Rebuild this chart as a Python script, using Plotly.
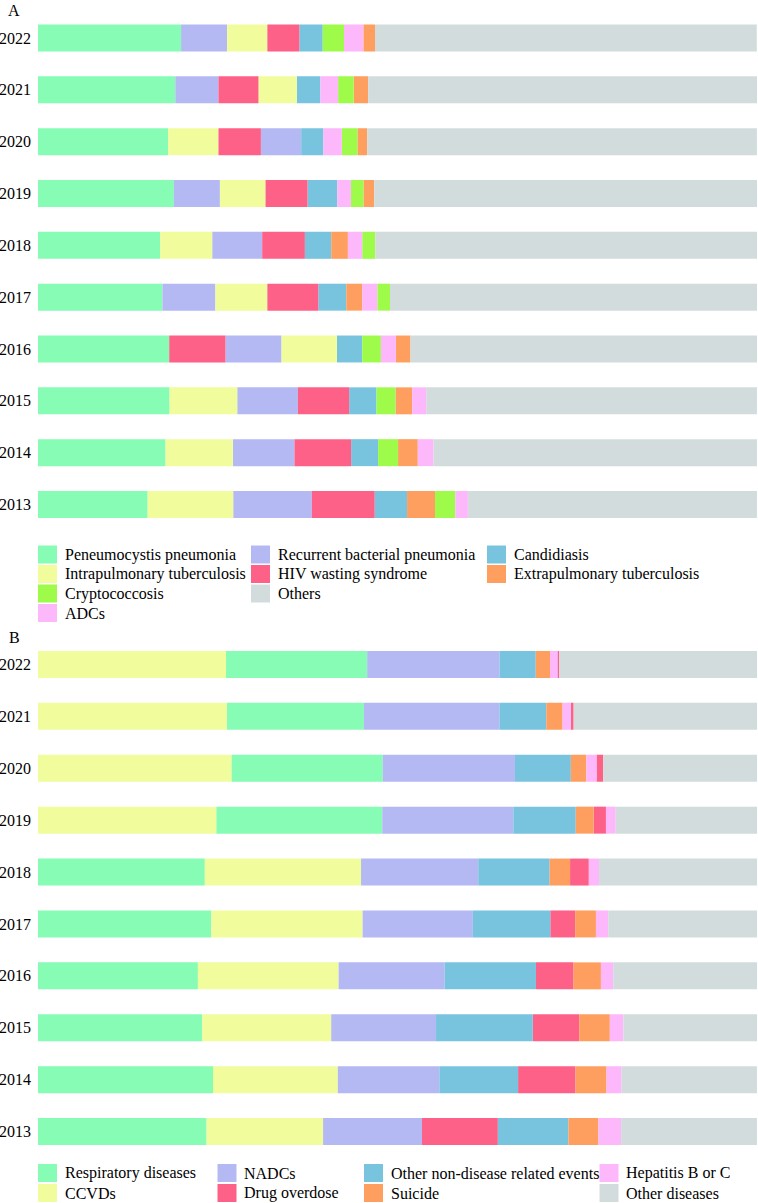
import plotly.graph_objects as go

# ---------------- data ----------------
years = ["2013", "2014", "2015", "2016", "2017", "2018", "2019", "2020", "2021", "2022"]

# Panel A (percent of deaths), years 2013 -> 2022
a_categories = [
    "Peneumocystis pneumonia", "Recurrent bacterial pneumonia", "Candidiasis",
    "Intrapulmonary tuberculosis", "HIV wasting syndrome", "Extrapulmonary tuberculosis",
    "Cryptococcosis", "Others", "ADCs",
]
a_pcp = [15.25, 17.74, 18.30, 18.25, 17.30, 17.00, 18.90, 18.10, 19.10, 19.90]
a_recurrent = [10.94, 8.56, 8.44, 7.79, 7.37, 6.95, 6.40, 5.60, 6.00, 6.40]
a_intra_tb = [11.90, 9.37, 9.41, 7.70, 7.23, 7.23, 6.35, 7.00, 5.33, 5.60]
a_hiv_wasting = [8.74, 7.88, 7.13, 7.83, 7.09, 5.94, 5.84, 5.90, 5.56, 4.45]
a_candidiasis = [4.50, 3.75, 3.80, 3.52, 3.89, 3.66, 4.13, 3.10, 3.29, 3.25]
a_crypto = [2.82, 2.78, 2.64, 2.60, 1.77, 1.81, 1.75, 2.17, 2.17, 2.96]
a_adcs = [1.75, 2.17, 1.95, 2.09, 2.09, 1.99, 1.90, 2.56, 2.46, 2.69]
a_extra_tb = [3.89, 2.74, 2.32, 2.03, 2.22, 2.32, 1.49, 1.35, 2.00, 1.62]
a_others = [40.20, 45.00, 46.00, 48.20, 51.10, 53.10, 53.25, 54.20, 54.10, 53.10]

# Panel B (percent of deaths), years 2013 -> 2022
b_categories = [
    "Respiratory diseases", "CCVDs", "NADCs", "Drug overdose",
    "Other non-disease related events", "Suicide", "Hepatitis B or C", "Other diseases",
]
b_respiratory = [23.45, 24.34, 22.85, 22.24, 24.10, 23.20, 23.09, 21.05, 19.07, 19.63]
b_ccvds = [16.20, 17.36, 17.93, 19.57, 21.05, 21.73, 24.79, 26.90, 26.26, 26.15]
b_nadcs = [13.76, 14.12, 14.58, 14.75, 15.33, 16.30, 18.23, 18.39, 18.84, 18.40]
b_non_disease = [9.81, 10.95, 13.46, 12.70, 10.77, 9.93, 8.68, 7.77, 6.52, 5.05]
b_drug_overdose = [10.55, 7.99, 6.46, 5.23, 3.46, 2.61, 1.70, 0.92, 0.40, 0.17]
b_suicide = [4.17, 4.31, 4.25, 3.80, 2.89, 2.84, 2.50, 2.15, 2.27, 1.99]
b_hepatitis = [3.16, 2.10, 1.88, 1.71, 1.71, 1.42, 1.36, 1.42, 1.14, 1.08]
b_other_diseases = [18.89, 18.82, 18.59, 20.00, 20.69, 22.00, 19.67, 21.40, 25.50, 27.55]

# ---------------- styling ----------------
GREEN = "#86FCB4"
LAVENDER = "#B4B9F4"
YELLOW = "#F1FD9C"
RED = "#FE6187"
BLUE = "#78C4DF"
LIME = "#9EFB4A"
PINK = "#FDB7FB"
ORANGE = "#FE9E5F"
GREY = "#D2DCDC"

a_values = {
    "Peneumocystis pneumonia": a_pcp,
    "Recurrent bacterial pneumonia": a_recurrent,
    "Candidiasis": a_candidiasis,
    "Intrapulmonary tuberculosis": a_intra_tb,
    "HIV wasting syndrome": a_hiv_wasting,
    "Extrapulmonary tuberculosis": a_extra_tb,
    "Cryptococcosis": a_crypto,
    "Others": a_others,
    "ADCs": a_adcs,
}
a_colors = {
    "Peneumocystis pneumonia": GREEN,
    "Recurrent bacterial pneumonia": LAVENDER,
    "Candidiasis": BLUE,
    "Intrapulmonary tuberculosis": YELLOW,
    "HIV wasting syndrome": RED,
    "Extrapulmonary tuberculosis": ORANGE,
    "Cryptococcosis": LIME,
    "Others": GREY,
    "ADCs": PINK,
}
b_values = {
    "Respiratory diseases": b_respiratory,
    "CCVDs": b_ccvds,
    "NADCs": b_nadcs,
    "Drug overdose": b_drug_overdose,
    "Other non-disease related events": b_non_disease,
    "Suicide": b_suicide,
    "Hepatitis B or C": b_hepatitis,
    "Other diseases": b_other_diseases,
}
b_colors = {
    "Respiratory diseases": GREEN,
    "CCVDs": YELLOW,
    "NADCs": LAVENDER,
    "Drug overdose": RED,
    "Other non-disease related events": BLUE,
    "Suicide": ORANGE,
    "Hepatitis B or C": PINK,
    "Other diseases": GREY,
}

W, H = 758, 1203
FONT = "'Liberation Serif', 'Times New Roman', Times, serif"
FS = 16


def fx(px):
    return px / W


def fy(py):
    return 1 - py / H


fig = go.Figure()


def add_panel(values, colors, residual, xa, ya):
    n = len(years)
    bases = {c: [0.0] * n for c in values}
    for i in range(n):
        main = [c for c in values if c != residual]
        order = sorted(main, key=lambda c: -values[c][i]) + [residual]
        acc = 0.0
        for c in order:
            bases[c][i] = acc
            acc += values[c][i]
    for c in values:
        fig.add_trace(go.Bar(
            y=years, x=values[c], base=bases[c], orientation="h",
            width=0.52, name=c, showlegend=False,
            marker=dict(color=colors[c], line=dict(width=0)),
            xaxis=xa, yaxis=ya,
            hovertemplate=c + ": %{x:.2f}%<extra></extra>",
        ))


add_panel(a_values, a_colors, "Others", "x", "y")
add_panel(b_values, b_colors, "Other diseases", "x2", "y2")

axis_common = dict(showgrid=False, zeroline=False, showline=False)
fig.update_layout(
    width=W, height=H,
    margin=dict(l=0, r=0, t=0, b=0),
    paper_bgcolor="white", plot_bgcolor="white",
    barmode="overlay",
    font=dict(family=FONT, size=FS, color="black"),
    xaxis=dict(domain=[fx(38), fx(757)], range=[0, 100], visible=False, anchor="y", **axis_common),
    yaxis=dict(domain=[fy(530.4), fy(12.1)], type="category", categoryorder="array",
               categoryarray=years, range=[-0.5, 9.5], ticks="", ticklabelstandoff=6,
               tickfont=dict(family=FONT, size=FS, color="black"), anchor="x", **axis_common),
    xaxis2=dict(domain=[fx(38), fx(757)], range=[0, 100], visible=False, anchor="y2", **axis_common),
    yaxis2=dict(domain=[fy(1157.5), fy(638.5)], type="category", categoryorder="array",
                categoryarray=years, range=[-0.5, 9.5], ticks="", ticklabelstandoff=6,
                tickfont=dict(family=FONT, size=FS, color="black"), anchor="x2", **axis_common),
)

annotations = [
    dict(text="A", x=fx(14), y=fy(10), xref="paper", yref="paper", showarrow=False,
         xanchor="center", yanchor="middle", font=dict(family=FONT, size=FS, color="black")),
    dict(text="B", x=fx(14.5), y=fy(637), xref="paper", yref="paper", showarrow=False,
         xanchor="center", yanchor="middle", font=dict(family=FONT, size=FS, color="black")),
]
shapes = []

# manual legends (column layout as in the reference)
legend_a_cols = [
    (38, ["Peneumocystis pneumonia", "Intrapulmonary tuberculosis", "Cryptococcosis", "ADCs"]),
    (251, ["Recurrent bacterial pneumonia", "HIV wasting syndrome", "Others"]),
    (487, ["Candidiasis", "Extrapulmonary tuberculosis"]),
]
legend_a_rows = [554.5, 574.0, 593.5, 613.0]
legend_b_cols = [
    (38, ["Respiratory diseases", "CCVDs"]),
    (217.5, ["NADCs", "Drug overdose"]),
    (364, ["Other non-disease related events", "Suicide"]),
    (599.5, ["Hepatitis B or C", "Other diseases"]),
]
legend_b_rows = [1173.0, 1193.0]


def add_legend(cols, rows, colors):
    for x0, items in cols:
        for r, item in enumerate(items):
            yc = rows[r]
            shapes.append(dict(type="rect", xref="paper", yref="paper",
                               x0=fx(x0), x1=fx(x0 + 19), y0=fy(yc + 9), y1=fy(yc - 9),
                               fillcolor=colors[item], line=dict(width=0)))
            annotations.append(dict(text=item, x=fx(x0 + 24.5), y=fy(yc), xref="paper", yref="paper",
                                    showarrow=False, xanchor="left", yanchor="middle",
                                    font=dict(family=FONT, size=FS, color="black")))


add_legend(legend_a_cols, legend_a_rows, a_colors)
add_legend(legend_b_cols, legend_b_rows, b_colors)

fig.update_layout(annotations=annotations, shapes=shapes)
fig.write_html(
    "out.html",
    config={"displayModeBar": False},
    post_script="document.body.style.margin='0';document.body.style.overflow='hidden';",
)
